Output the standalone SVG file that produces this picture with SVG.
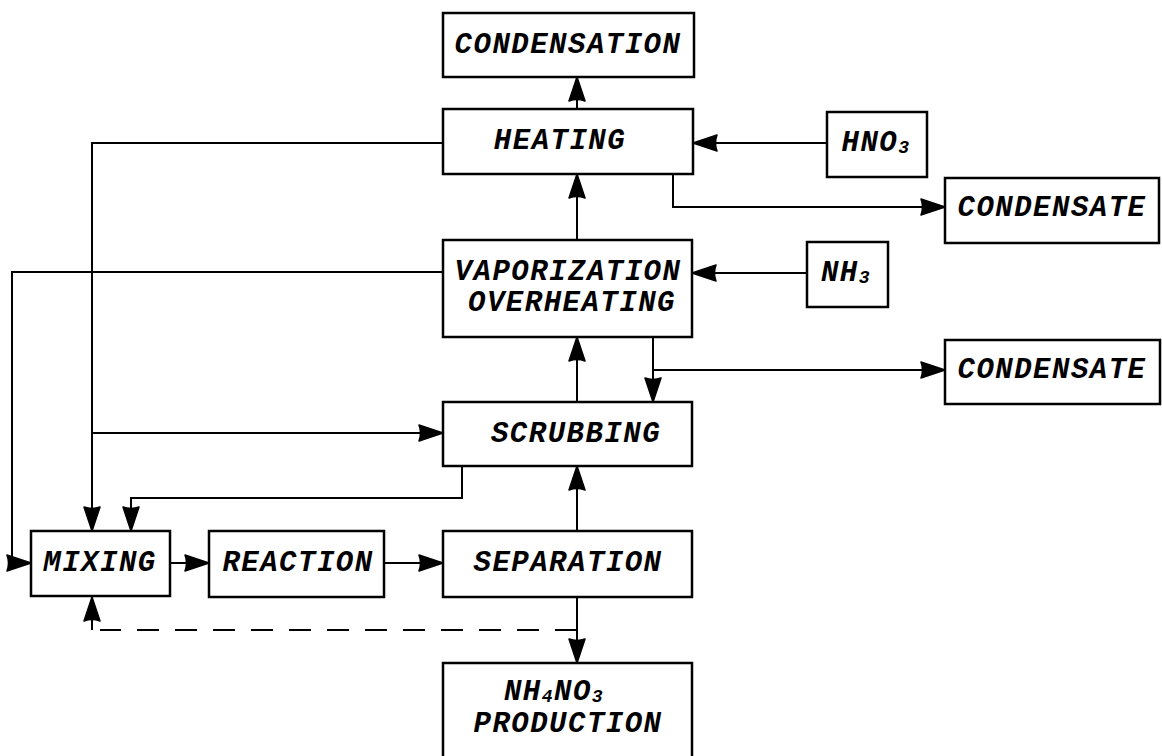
<svg xmlns="http://www.w3.org/2000/svg" width="1162" height="756" viewBox="0 0 1162 756">
<style>
.box{fill:#fff;stroke:#000;stroke-width:2.5}
.t{font-family:"Liberation Mono","DejaVu Sans Mono",monospace;font-weight:bold;font-style:italic;font-size:29px;fill:#000;text-anchor:middle;dominant-baseline:central;letter-spacing:1.5px}
.sub{font-size:18px}
.c{fill:none;stroke:#000;stroke-width:2}
.d{stroke-dasharray:22 16}
</style>
<defs>
<marker id="ah" viewBox="0 0 26 20" refX="25" refY="10" markerWidth="26" markerHeight="20" markerUnits="userSpaceOnUse" orient="auto">
<path d="M1,2 Q4,10 1,18 L25,10 z" fill="#000" stroke="#000" stroke-width="1.5" stroke-linejoin="round"/>
</marker>
</defs>
<rect width="1162" height="756" fill="#fff"/>
<g id="connectors">
<path class="c" d="M577,109 V77" marker-end="url(#ah)"/>
<path class="c" d="M577,240 V174" marker-end="url(#ah)"/>
<path class="c" d="M827,143 H693" marker-end="url(#ah)"/>
<path class="c" d="M673,174 V207 H945" marker-end="url(#ah)"/>
<path class="c" d="M807,273 H692" marker-end="url(#ah)"/>
<path class="c" d="M653,337 V402" marker-end="url(#ah)"/>
<path class="c" d="M653,370 H945" marker-end="url(#ah)"/>
<path class="c" d="M577,402 V337" marker-end="url(#ah)"/>
<path class="c" d="M577,531 V466" marker-end="url(#ah)"/>
<path class="c" d="M443,143 H92 V531" marker-end="url(#ah)"/>
<path class="c" d="M92,433 H443" marker-end="url(#ah)"/>
<path class="c" d="M443,272 H12 V563 H31" marker-end="url(#ah)"/>
<path class="c" d="M462,466 V498 H131 V531" marker-end="url(#ah)"/>
<path class="c" d="M170,563 H209" marker-end="url(#ah)"/>
<path class="c" d="M384,563 H443" marker-end="url(#ah)"/>
<path class="c" d="M577,597 V663" marker-end="url(#ah)"/>
<path class="c d" d="M577,630 H100"/>
<path class="c" d="M92,630 V597" marker-end="url(#ah)"/>
</g>
<g id="condensation"><rect class="box" x="443" y="13" width="251" height="64"/><text class="t" x="568" y="45">CONDENSATION</text></g>
<g id="heating"><rect class="box" x="443" y="109" width="250" height="65"/><text class="t" x="560" y="141">HEATING</text></g>
<g id="hno3"><rect class="box" x="827" y="112" width="100" height="65"/><text class="t" x="876" y="143">HNO<tspan class="sub" dy="5">3</tspan></text></g>
<g id="condensate1"><rect class="box" x="945" y="178" width="214" height="65"/><text class="t" x="1052" y="208">CONDENSATE</text></g>
<g id="vaporization"><rect class="box" x="443" y="240" width="249" height="97"/><text class="t" x="568" y="272">VAPORIZATION</text><text class="t" x="572" y="303">OVERHEATING</text></g>
<g id="nh3"><rect class="box" x="807" y="242" width="81" height="65"/><text class="t" x="846" y="273">NH<tspan class="sub" dy="5">3</tspan></text></g>
<g id="condensate2"><rect class="box" x="945" y="340" width="215" height="64"/><text class="t" x="1052" y="370">CONDENSATE</text></g>
<g id="scrubbing"><rect class="box" x="443" y="402" width="249" height="64"/><text class="t" x="576" y="434">SCRUBBING</text></g>
<g id="mixing"><rect class="box" x="31" y="531" width="139" height="65"/><text class="t" x="100" y="563">MIXING</text></g>
<g id="reaction"><rect class="box" x="209" y="531" width="175" height="66"/><text class="t" x="298" y="563">REACTION</text></g>
<g id="separation"><rect class="box" x="443" y="531" width="249" height="66"/><text class="t" x="568" y="563">SEPARATION</text></g>
<g id="production"><rect class="box" x="443" y="663" width="249" height="100"/><text class="t" x="554" y="692">NH<tspan class="sub" dy="5">4</tspan><tspan dy="-5">NO</tspan><tspan class="sub" dy="5">3</tspan></text><text class="t" x="568" y="724">PRODUCTION</text></g>
</svg>
